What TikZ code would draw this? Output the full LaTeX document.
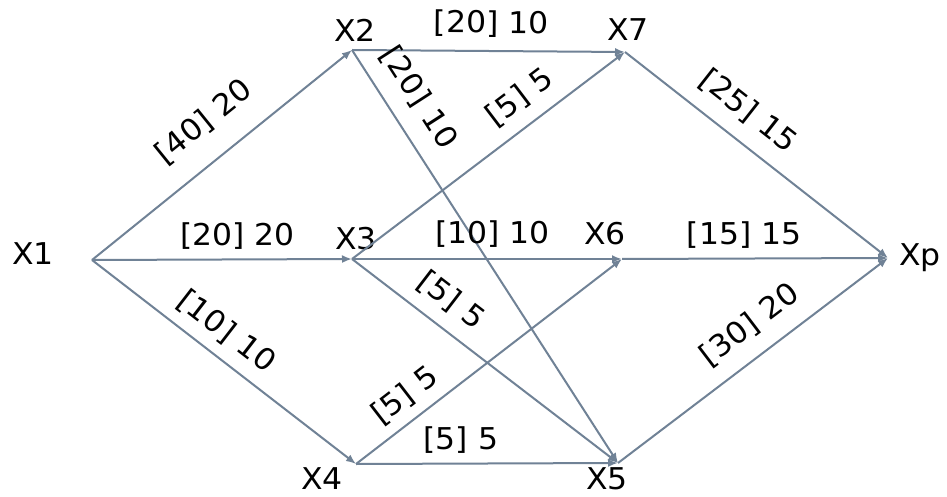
\documentclass[tikz,border=0pt]{standalone}
\usepackage{fontspec}
\setmainfont[FakeStretch=1.05]{DejaVu Sans}
\usetikzlibrary{arrows.meta}
\definecolor{linec}{RGB}{112,130,150}
\begin{document}
\begin{tikzpicture}[x=0.5pt,y=-0.5pt,
  edge/.style={draw=linec, line width=1pt, -{Latex[length=5pt,width=4pt]}},
  vlab/.style={font=\fontsize{15}{17}\selectfont, inner sep=1pt, text=black},
  elab/.style={font=\fontsize{15}{17}\selectfont, inner sep=1.5pt, text=black, sloped, above=#1},
  elab/.default=5pt]
\useasboundingbox (0,0) rectangle (947,497);
\fill[white] (0,0) rectangle (947,497);
\coordinate (p1) at (92,260);
\coordinate (p2) at (352,50);
\coordinate (p3) at (352,259);
\coordinate (p4) at (356,464);
\coordinate (p5) at (618,463);
\coordinate (p6) at (622,259);
\coordinate (p7) at (625,52);
\coordinate (pp) at (888,258);
\node[vlab] (l1) at (33,254) {X1};
\node[vlab] (l2) at (355,30) {X2};
\node[vlab] (l3) at (356,239) {X3};
\node[vlab] (l4) at (322,479) {X4};
\node[vlab] (l5) at (607,479) {X5};
\node[vlab] (l6) at (605,234) {X6};
\node[vlab] (l7) at (628,30) {X7};
\node[vlab] (lp) at (920,258) {Xp};
\draw[edge] (p1) -- node[elab=10pt,pos=0.52] {[40] 20} (p2);
\draw[edge] (p1) -- node[elab=3pt,pos=0.56] {[20] 20} (p3);
\draw[edge] (p1) -- node[elab=4pt,pos=0.45] {[10] 10} (p4);
\draw[edge] (p2) -- node[elab=5pt,pos=0.51] {[20] 10} (p7);
\draw[edge] (p2) -- node[elab=6.5pt,pos=0.155] {[20] 10} (p5);
\draw[edge] (p3) -- node[elab=5pt,pos=0.675] {[5] 5} (p7);
\draw[edge] (p3) -- node[elab=4pt,pos=0.52] {[10] 10} (p6);
\draw[edge] (p3) -- node[elab=5pt,pos=0.31] {[5] 5} (p5);
\draw[edge] (p4) -- node[elab=3.5pt,pos=0.24] {[5] 5} (p6);
\draw[edge] (p4) -- node[elab=3pt,pos=0.40] {[5] 5} (p5);
\draw[edge] (p7) -- node[elab=6pt,pos=0.40] {[25] 15} (pp);
\draw[edge] (p6) -- node[elab=3pt,pos=0.46] {[15] 15} (pp);
\draw[edge] (p5) -- node[elab=6.5pt,pos=0.556] {[30] 20} (pp);
\end{tikzpicture}
\end{document}
